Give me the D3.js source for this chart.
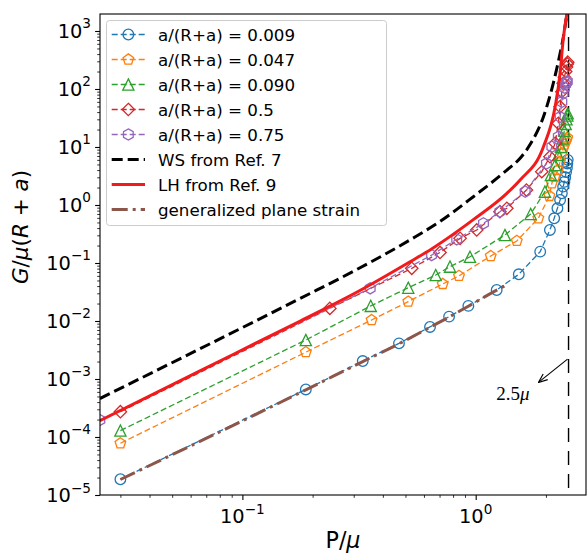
<!DOCTYPE html>
<html>
<head>
<meta charset="utf-8">
<script src="https://cdn.jsdelivr.net/npm/d3@7"></script>
<style>
  body { margin: 0; background: #fff; }
  svg text { font-family: "DejaVu Sans", sans-serif; fill: #000; }
</style>
</head>
<body>
<svg id="chart" width="587" height="554"></svg>
<script>
// values: P/mu and G/mu(R+a)
var p009 = [0.030, 0.187, 0.328, 0.469, 0.637, 0.769, 0.930, 1.23, 1.53, 1.89, 2.08, 2.17, 2.24, 2.30, 2.34, 2.37, 2.40, 2.42, 2.44, 2.46, 2.47, 2.48];
var g009 = [1.87e-5, 6.6e-4, 2.04e-3, 4.12e-3, 7.9e-3, 0.0119, 0.0182, 0.0342, 0.0638, 0.157, 0.371, 0.59, 0.877, 1.22, 1.59, 2.07, 2.5, 3.0, 3.7, 4.4, 5.2, 6.0];

var p047 = [0.030, 0.187, 0.358, 0.514, 0.722, 0.848, 1.16, 1.50, 1.855, 2.07, 2.12, 2.18, 2.25, 2.30, 2.34, 2.37, 2.40, 2.43, 2.45, 2.47];
var g047 = [7.8e-5, 2.9e-3, 0.0104, 0.0216, 0.0435, 0.060, 0.132, 0.240, 0.59, 1.43, 2.37, 3.1, 4.0, 5.6, 7.8, 9.5, 11.0, 12.5, 13.5, 14.5];

var p090 = [0.030, 0.187, 0.355, 0.514, 0.674, 0.776, 0.945, 1.335, 1.72, 1.98, 2.10, 2.19, 2.26, 2.32, 2.36, 2.40, 2.43, 2.45, 2.47, 2.48];
var g090 = [1.29e-4, 4.7e-3, 0.0182, 0.0375, 0.062, 0.0865, 0.128, 0.304, 0.70, 1.70, 3.29, 4.9, 7.3, 10.1, 14, 19, 25, 30, 35, 38];

var p05 = [0.030, 0.237, 0.532, 0.703, 0.857, 1.01, 1.27, 1.36, 1.65, 1.92, 2.08, 2.19, 2.26, 2.30, 2.34, 2.37, 2.40, 2.43, 2.45, 2.47, 2.48];
var g05 = [2.73e-4, 0.0165, 0.0809, 0.152, 0.266, 0.371, 0.767, 0.877, 1.81, 3.76, 6.8, 11.6, 25.6, 49.5, 90, 125, 160, 200, 240, 270, 290];

var p075 = [0.0245, 0.353, 0.647, 0.829, 1.08, 1.27, 1.63, 2.01, 2.12, 2.26, 2.30, 2.34, 2.37, 2.40, 2.43, 2.45, 2.47];
var g075 = [1.96e-4, 0.0366, 0.137, 0.256, 0.483, 0.767, 1.70, 5.2, 10.1, 15, 33, 60, 84, 105, 120, 130, 135];

var wsP = [0.0245, 0.0658, 0.177, 0.309, 0.523, 0.703, 0.977, 1.36, 1.55, 1.71, 1.95, 2.15, 2.30, 2.37, 2.465];
var wsG = [4.6e-4, 3.32e-3, 0.0245, 0.077, 0.25, 0.52, 1.39, 4.0, 6.4, 11, 33, 125, 412, 750, 2100];

var lhP = [0.0245, 0.0658, 0.177, 0.319, 0.523, 0.647, 0.857, 0.977, 1.36, 1.55, 1.95, 2.19, 2.30, 2.37, 2.465];
var lhG = [1.91e-4, 1.38e-3, 0.0100, 0.0335, 0.105, 0.175, 0.38, 0.56, 1.59, 2.7, 10, 49.5, 187, 700, 2100];

var gpsP = [0.030, 0.187, 0.328, 0.469, 0.637, 0.769, 0.930, 1.23, 1.35];
var gpsG = [1.85e-5, 6.5e-4, 2.0e-3, 4.05e-3, 7.8e-3, 0.0117, 0.018, 0.034, 0.0415];

var seriesLabels = ["a/(R+a) = 0.009", "a/(R+a) = 0.047", "a/(R+a) = 0.090", "a/(R+a) = 0.5", "a/(R+a) = 0.75"];
var lineLabels = ["WS from Ref. 7", "LH from Ref. 9", "generalized plane strain"];

var xTicks = [0.1, 1];
var xTickExp = ["\u22121", "0"];
var yTicks = [1e-5, 1e-4, 1e-3, 1e-2, 1e-1, 1, 10, 100, 1000];
var yTickExp = ["\u22125", "\u22124", "\u22123", "\u22122", "\u22121", "0", "1", "2", "3"];

var xDomain = [0.02453, 2.97];
var yDomain = [1e-5, 1963];
var wall = 2.5;

var svg = d3.select("#chart");
var m = {left: 100, right: 586, top: 14, bottom: 495};

var x = d3.scaleLog().domain(xDomain).range([m.left, m.right]);
var y = d3.scaleLog().domain(yDomain).range([m.bottom, m.top]);

svg.append("rect").attr("width", 587).attr("height", 554).attr("fill", "#fff");

svg.append("clipPath").attr("id", "plotclip")
  .append("rect")
  .attr("x", m.left).attr("y", m.top)
  .attr("width", m.right - m.left).attr("height", m.bottom - m.top);

// ---- ticks ----
var xMinor = [], yMinor = [];
[0.01, 0.1, 1].forEach(function (d) {
  for (var k = 2; k < 10; k++) {
    var v = d * k;
    if (v >= xDomain[0] && v <= xDomain[1]) xMinor.push(v);
  }
});
yTicks.forEach(function (d) {
  for (var k = 2; k < 10; k++) {
    var v = d * k;
    if (v <= yDomain[1]) yMinor.push(v);
  }
});

function tickAxis(axis, vals, size, width) {
  return function (g) {
    g.call(axis.tickValues(vals).tickSize(size).tickFormat(""));
    g.select(".domain").remove();
    g.selectAll(".tick line").attr("stroke", "#000").attr("stroke-width", width);
  };
}

var xAx = svg.append("g").attr("transform", "translate(0," + m.bottom + ")");
xAx.append("g").call(tickAxis(d3.axisBottom(x), xMinor, 2.8, 0.8));
xAx.append("g").call(tickAxis(d3.axisBottom(x), xTicks, 4.9, 1.1));

var yAx = svg.append("g").attr("transform", "translate(" + m.left + ",0)");
yAx.append("g").call(tickAxis(d3.axisLeft(y), yMinor, 2.8, 0.8));
yAx.append("g").call(tickAxis(d3.axisLeft(y), yTicks, 4.9, 1.1));

// tick labels with superscripts
xTicks.forEach(function (d, i) {
  var t = svg.append("text")
    .attr("x", x(d)).attr("y", m.bottom + 27.7)
    .attr("text-anchor", "middle")
    .style("font-size", "19.4px");
  t.append("tspan").text("10");
  t.append("tspan").attr("dy", -8.8).style("font-size", "13.6px").text(xTickExp[i]);
});

yTicks.forEach(function (d, i) {
  var t = svg.append("text")
    .attr("x", m.left - 9).attr("y", y(d) + 7.3)
    .attr("text-anchor", "end")
    .style("font-size", "19.4px");
  t.append("tspan").text("10");
  t.append("tspan").attr("dy", -9.8).style("font-size", "13.6px").text(yTickExp[i]);
});

// axis labels
var xl = svg.append("text")
  .attr("x", (m.left + m.right) / 2).attr("y", 548)
  .attr("text-anchor", "middle")
  .style("font-size", "22.2px");
xl.append("tspan").text("P/");
xl.append("tspan").style("font-style", "italic").text("\u03bc");

var yl = svg.append("text")
  .attr("transform", "translate(28,227) rotate(-90)")
  .attr("text-anchor", "middle")
  .style("font-size", "21.5px");
[["G", 1], ["/", 0], ["\u03bc", 1], ["(", 0], ["R", 1], [" + ", 0], ["a", 1], [")", 0]].forEach(function (p) {
  yl.append("tspan").style("font-style", p[1] ? "italic" : "normal").text(p[0]);
});

// ---- markers ----
function poly(n, r, rot) {
  var pts = [];
  for (var i = 0; i < n; i++) {
    var a = rot + i * 2 * Math.PI / n;
    pts.push([r * Math.cos(a), r * Math.sin(a)]);
  }
  return "M" + pts.map(function (p) { return p[0].toFixed(2) + "," + p[1].toFixed(2); }).join("L") + "Z";
}
var shapes = {
  circle: d3.symbol(d3.symbolCircle, Math.PI * 5.3 * 5.3)(),
  pentagon: poly(5, 5.6, -Math.PI / 2),
  triangle: "M0,-5.6L5.6,5.6L-5.6,5.6Z",
  diamond: poly(4, 6.2, -Math.PI / 2),
  hexagon: poly(6, 5.6, -Math.PI / 2)
};

var series = [
  {P: p009, G: g009, color: "#1f77b4", shape: "circle"},
  {P: p047, G: g047, color: "#ff7f0e", shape: "pentagon"},
  {P: p090, G: g090, color: "#2ca02c", shape: "triangle"},
  {P: p05, G: g05, color: "#d62728", shape: "diamond"},
  {P: p075, G: g075, color: "#9467bd", shape: "hexagon"}
];
series.forEach(function (s, i) { s.label = seriesLabels[i]; });

var lines = [
  {P: wsP, G: wsG, color: "#000", width: 3, dash: "11,5", label: lineLabels[0]},
  {P: lhP, G: lhG, color: "#f21a1a", width: 3, dash: null, label: lineLabels[1]},
  {P: gpsP, G: gpsG, color: "#8c564b", width: 3, dash: "16,5,3,5", label: lineLabels[2]}
];

var plot = svg.append("g").attr("clip-path", "url(#plotclip)");

// vertical asymptote at P = 2.5 mu
plot.append("line")
  .attr("x1", x(wall)).attr("x2", x(wall))
  .attr("y1", m.top).attr("y2", m.bottom)
  .attr("stroke", "#000").attr("stroke-width", 1.4)
  .attr("stroke-dasharray", "14,9");

var straight = d3.line().x(function (d) { return x(d[0]); }).y(function (d) { return y(d[1]); });
var smooth = d3.line().curve(d3.curveMonotoneX).x(function (d) { return x(d[0]); }).y(function (d) { return y(d[1]); });

series.forEach(function (s) {
  var pts = d3.zip(s.P, s.G);
  plot.append("path")
    .attr("d", straight(pts))
    .attr("fill", "none")
    .attr("stroke", s.color).attr("stroke-width", 1.3)
    .attr("stroke-dasharray", "6,3");
  plot.selectAll(null).data(pts).enter().append("path")
    .attr("d", shapes[s.shape])
    .attr("transform", function (d) { return "translate(" + x(d[0]) + "," + y(d[1]) + ")"; })
    .attr("fill", "none")
    .attr("stroke", s.color).attr("stroke-width", 1.3);
});

lines.forEach(function (l) {
  plot.append("path")
    .attr("d", smooth(d3.zip(l.P, l.G)))
    .attr("fill", "none")
    .attr("stroke", l.color).attr("stroke-width", l.width)
    .attr("stroke-dasharray", l.dash);
});

// frame
svg.append("rect")
  .attr("x", m.left).attr("y", m.top)
  .attr("width", m.right - m.left).attr("height", m.bottom - m.top)
  .attr("fill", "none").attr("stroke", "#000").attr("stroke-width", 1.1);

// annotation 2.5 mu
var defs = svg.append("defs");
defs.append("marker").attr("id", "head")
  .attr("viewBox", "0 0 10 10").attr("refX", 9).attr("refY", 5)
  .attr("markerWidth", 9).attr("markerHeight", 9)
  .attr("markerUnits", "userSpaceOnUse")
  .attr("orient", "auto")
  .append("path").attr("d", "M0,1L10,5L0,9").attr("fill", "none")
  .attr("stroke", "#000").attr("stroke-width", 1.3);

svg.append("line")
  .attr("x1", x(wall) - 1).attr("y1", y(2.2e-3))
  .attr("x2", x(1.87)).attr("y2", y(8.9e-4))
  .attr("stroke", "#000").attr("stroke-width", 1.1)
  .attr("marker-end", "url(#head)");

var ann = svg.append("text")
  .attr("x", x(1.445)).attr("y", y(4.3e-4))
  .attr("text-anchor", "middle")
  .style("font-family", "'Liberation Serif', 'DejaVu Serif', serif")
  .style("font-size", "19px");
ann.append("tspan").style("font-family", "'Liberation Serif', serif").text("2.5");
ann.append("tspan").style("font-family", "'Liberation Serif', serif").style("font-style", "italic").text("\u03bc");

// ---- legend ----
var lg = svg.append("g");
lg.append("rect")
  .attr("x", 106.5).attr("y", 20.5)
  .attr("width", 280).attr("height", 205)
  .attr("rx", 3)
  .attr("fill", "#fff").attr("fill-opacity", 0.8)
  .attr("stroke", "#cccccc").attr("stroke-width", 1);

var rowY = function (i) { return 34.5 + i * 25; };
var hx0 = 111.7, hx1 = 145, tx = 158;

series.forEach(function (s, i) {
  var yy = rowY(i);
  lg.append("line")
    .attr("x1", hx0).attr("x2", hx1).attr("y1", yy).attr("y2", yy)
    .attr("stroke", s.color).attr("stroke-width", 1.3)
    .attr("stroke-dasharray", "6,3");
  lg.append("path")
    .attr("d", shapes[s.shape])
    .attr("transform", "translate(" + (hx0 + hx1) / 2 + "," + yy + ")")
    .attr("fill", "none").attr("stroke", s.color).attr("stroke-width", 1.3);
  lg.append("text").attr("x", tx).attr("y", yy + 6)
    .style("font-size", "16.7px").text(s.label);
});

lines.forEach(function (l, j) {
  var yy = rowY(series.length + j);
  lg.append("line")
    .attr("x1", hx0).attr("x2", hx1).attr("y1", yy).attr("y2", yy)
    .attr("stroke", l.color).attr("stroke-width", l.width)
    .attr("stroke-dasharray", l.dash);
  lg.append("text").attr("x", tx).attr("y", yy + 6)
    .style("font-size", "16.7px").text(l.label);
});
</script>
</body>
</html>
